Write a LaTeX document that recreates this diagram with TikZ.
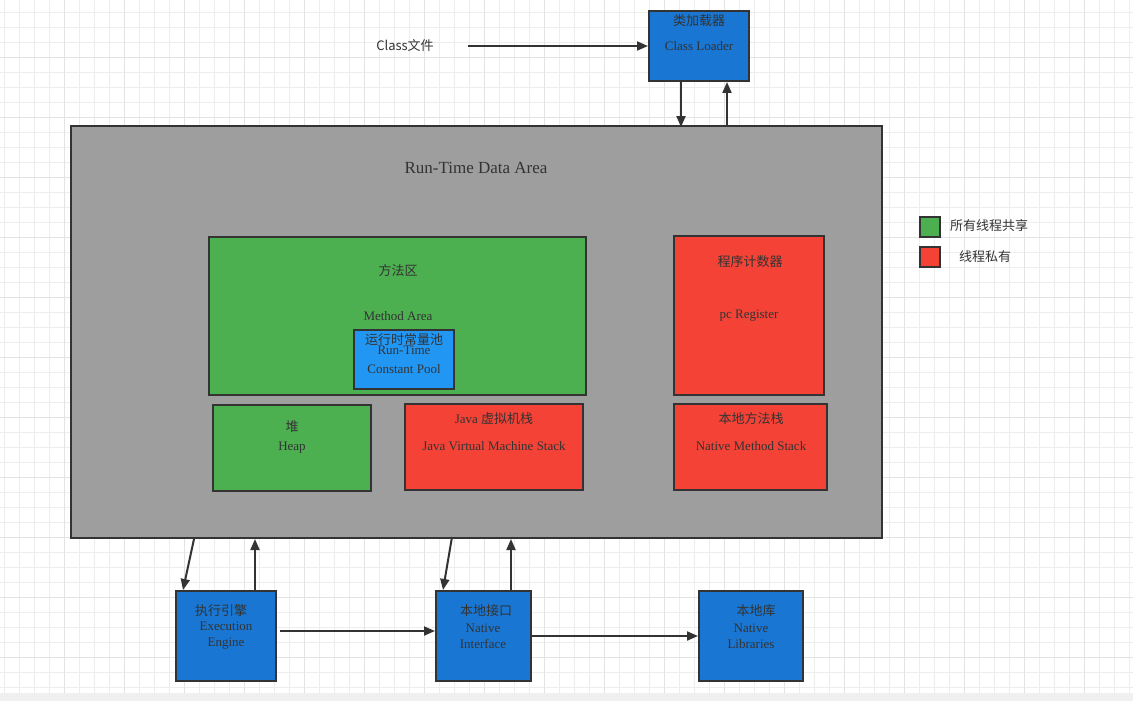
\documentclass[tikz,border=0pt]{standalone}
\usepackage{fontspec}
\setmainfont{Liberation Serif}
\newfontfamily\cjk{Noto Sans CJK SC}
\usetikzlibrary{arrows.meta, positioning, calc}
\definecolor{inkgray}{HTML}{333333}
\definecolor{areagray}{HTML}{9E9E9E}
\definecolor{sharedgreen}{HTML}{4CAF50}
\definecolor{privred}{HTML}{F44336}
\definecolor{loaderblue}{HTML}{1976D2}
\definecolor{poolblue}{HTML}{2196F3}
\tikzset{
  gridminor/.style={draw=black!7, line width=0.8pt},
  gridmajor/.style={draw=black!11, line width=0.8pt}
}

\begin{document}
\begin{tikzpicture}[
    x=1pt, y=-1pt,
    every node/.style={text=inkgray, inner sep=0pt, align=center},
    box/.style={draw=inkgray, line width=2pt, rectangle},
    bluebox/.style={box, fill=loaderblue},
    greenbox/.style={box, fill=sharedgreen},
    redbox/.style={box, fill=privred},
    zh/.style={font=\cjk\fontsize{13}{15}\selectfont},
    en/.style={font=\fontsize{13}{16}\selectfont},
    arrow/.style={-{Triangle[length=11pt,width=9pt]}, draw=inkgray, line width=2pt}
]
\useasboundingbox (0,0) rectangle (1133,701);
\fill[white] (0,0) rectangle (1133,701);
\fill[black!6] (0,693) rectangle (1133,701);
% background grid
\foreach \gx in {4,19,...,1129} \draw[gridminor] (\gx,0) -- (\gx,693);
\foreach \gy in {12,27,...,687} \draw[gridminor] (0,\gy) -- (1133,\gy);
\foreach \gx in {64,124,...,1129} \draw[gridmajor] (\gx,0) -- (\gx,693);
\foreach \gy in {57,117,...,687} \draw[gridmajor] (0,\gy) -- (1133,\gy);

% class loader
\node[zh] (classfile) at (405,46) {Class文件};
\node[bluebox, minimum width=100, minimum height=70] (loader) at (699,46) {};
\node[zh] (loaderzh) at (699,21) {类加载器};
\node[en] (loaderen) at (699,46) {Class Loader};

% run-time data area
\node[box, fill=areagray, minimum width=811, minimum height=412] (rtda) at (476.5,332) {};
\node[font=\fontsize{17}{20}\selectfont] (rtdatitle) at (476,168) {Run-Time Data Area};

\node[greenbox, minimum width=377, minimum height=158] (method) at (397.5,316) {};
\node[zh] (methodzh) at (398,271) {方法区};
\node[en] (methoden) at (398,316) {Method Area};
\node[box, fill=poolblue, minimum width=100, minimum height=59] (pool) at (404,359.5) {};
\node[zh] (poolzh) at (404,340) {运行时常量池};
\node[en] (poolen) at (404,359.5) {Run-Time\\[3pt]Constant Pool};

\node[greenbox, minimum width=158, minimum height=86] (heap) at (292,448) {};
\node[zh] (heapzh) at (292,427) {堆};
\node[en] (heapen) at (292,448) {Heap};

\node[redbox, minimum width=178, minimum height=86] (jvms) at (494,447) {};
\node[zh] (jvmszh) at (494,419) {\rmfamily Java \cjk 虚拟机栈};
\node[en] (jvmsen) at (494,446) {Java Virtual Machine Stack};

\node[redbox, minimum width=150, minimum height=159] (pcreg) at (749,315.5) {};
\node[zh] (pcregzh) at (750,262) {程序计数器};
\node[en] (pcregen) at (749,316) {pc Register};

\node[redbox, minimum width=153, minimum height=86] (nms) at (750.5,447) {};
\node[zh] (nmszh) at (751,419) {本地方法栈};
\node[en] (nmsen) at (751,446) {Native Method Stack};

% legend
\node[greenbox, minimum width=20, minimum height=20] (keyshared) at (930,227) {};
\node[zh] (keysharedtxt) at (989,226) {所有线程共享};
\node[redbox, minimum width=20, minimum height=20] (keyprivate) at (930,257) {};
\node[zh] (keyprivatetxt) at (985,257) {线程私有};

% execution engine, native interface, native libraries
\node[bluebox, minimum width=100, minimum height=90] (exec) at (226,636) {};
\node[zh] (execzh) at (221,611) {执行引擎};
\node[en] (execen) at (226,636) {Execution\\Engine};

\node[bluebox, minimum width=95, minimum height=90] (iface) at (483.5,636) {};
\node[zh] (ifacezh) at (486,611) {本地接口};
\node[en] (ifaceen) at (483,636) {Native\\Interface};

\node[bluebox, minimum width=104, minimum height=90] (libs) at (751,636) {};
\node[zh] (libszh) at (756,611) {本地库};
\node[en] (libsen) at (751,636) {Native\\Libraries};

% connectors
\draw[arrow] ([xshift=34pt]classfile.east) -- (loader.west);
\draw[arrow] ([xshift=-18pt]loader.south) -- ([xshift=-18pt,yshift=-2pt]loader.south |- rtda.north);
\draw[arrow] ([xshift=28pt]loader.south |- rtda.north) -- ([xshift=28pt]loader.south);

\draw[arrow] ([xshift=124pt]rtda.south west) -- ([xshift=8pt]exec.north west);
\draw[arrow] ([xshift=29pt]exec.north) -- ([xshift=29pt]exec.north |- rtda.south);
\draw[arrow] ([xshift=382pt,yshift=2pt]rtda.south west) -- ([xshift=8pt]iface.north west);
\draw[arrow] ([xshift=27.5pt]iface.north) -- ([xshift=27.5pt]iface.north |- rtda.south);

\draw[arrow] ([shift={(3pt,5pt)}]exec.east) -- ([yshift=5pt]iface.west);
\draw[arrow] (iface.east) -- (libs.west);
\end{tikzpicture}
\end{document}
